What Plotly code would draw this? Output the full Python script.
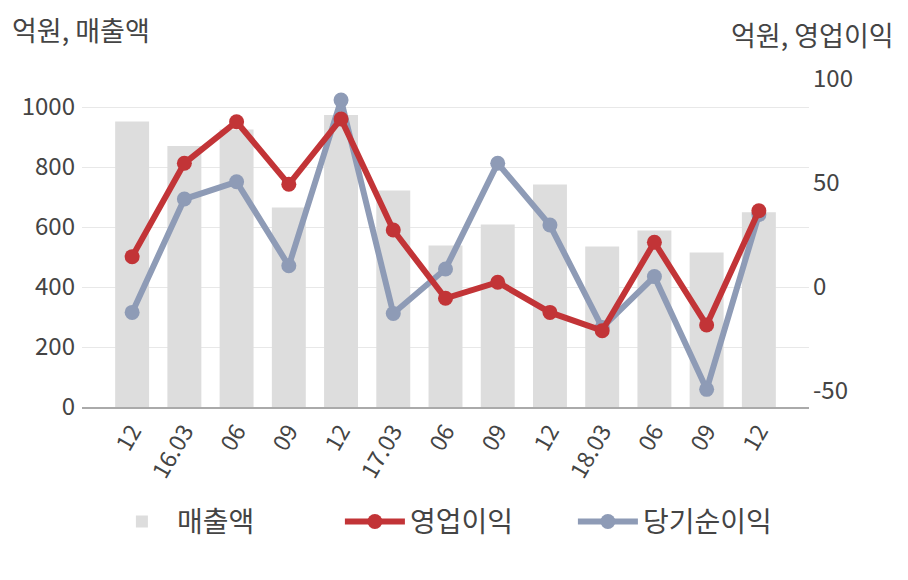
import plotly.graph_objects as go

tick_labels = ["12", "16.03", "06", "09", "12", "17.03", "06", "09", "12", "18.03", "06", "09", "12"]
sales = [952, 870, 925, 665, 973, 722, 538, 608, 742, 535, 588, 515, 649]
op_income = [14.6, 59.5, 79.5, 49.4, 80.8, 27.4, -5.4, 2.3, -12.2, -21.0, 21.5, -18.3, 36.7]
net_income = [-12.2, 42.3, 50.6, 10.2, 89.9, -12.7, 8.7, 59.5, 29.8, -19.5, 5.0, -49.2, 34.8]
left_ticks = [0, 200, 400, 600, 800, 1000]
right_ticks = [-50, 0, 50, 100]

FONT = "Noto Sans CJK KR"
TXT = "#444444"
xs = list(range(len(tick_labels)))

fig = go.Figure()
fig.add_trace(go.Bar(x=xs, y=sales, name="매출액", marker_color="#dddddd",
                     width=0.65, yaxis="y", legendrank=1))
fig.add_trace(go.Scatter(x=xs, y=net_income, name="당기순이익", mode="lines+markers",
                         line=dict(color="#8e9bb6", width=6),
                         marker=dict(size=15, color="#8e9bb6"), yaxis="y2", legendrank=3))
fig.add_trace(go.Scatter(x=xs, y=op_income, name="영업이익", mode="lines+markers",
                         line=dict(color="#c23437", width=6),
                         marker=dict(size=15, color="#c23437"), yaxis="y2", legendrank=2))

# page body has an 8px margin, so the figure is laid out 8px up/left of the target
fig.update_layout(
    template="none",
    width=908, height=580,
    margin=dict(l=74, r=107, t=69, b=181),
    plot_bgcolor="white", paper_bgcolor="white",
    font=dict(family=FONT, color=TXT, size=22),
    xaxis=dict(tickmode="array", tickvals=xs, ticktext=tick_labels,
               range=[-0.96, 12.96], tickangle=-60, automargin=False,
               showline=True, linecolor="#aaaaaa", linewidth=1.5,
               showgrid=False, zeroline=False, ticks="", tickfont=dict(size=23, color=TXT)),
    yaxis=dict(range=[0, 1100], tickmode="array", tickvals=left_ticks,
               ticktext=[str(v) for v in left_ticks], automargin=False,
               showgrid=True, gridcolor="#e8e8e8", gridwidth=1, zeroline=False,
               showline=False, ticks="", ticklabelstandoff=6,
               tickfont=dict(size=24, color=TXT)),
    yaxis2=dict(range=[-57.7, 101], tickmode="array", tickvals=right_ticks,
                ticktext=[str(v) for v in right_ticks], overlaying="y", automargin=False,
                side="right", showgrid=False, zeroline=False, showline=False, ticks="",
                ticklabelstandoff=3, tickfont=dict(size=24, color=TXT)),
    legend=dict(orientation="h", x=0.515, xanchor="center", y=-0.348, yanchor="middle",
                font=dict(size=28, color=TXT), itemwidth=60,
                entrywidth=158, entrywidthmode="pixels", bgcolor="rgba(0,0,0,0)"),
    annotations=[
        dict(text="억원, 매출액", xref="paper", yref="paper", x=-0.099, y=1.145,
             xanchor="left", yanchor="middle", showarrow=False,
             font=dict(size=27, color=TXT)),
        dict(text="억원, 영업이익", xref="paper", yref="paper", x=1.12, y=1.13,
             xanchor="right", yanchor="middle", showarrow=False,
             font=dict(size=27, color=TXT)),
    ],
)
fig.write_html("out.html")
